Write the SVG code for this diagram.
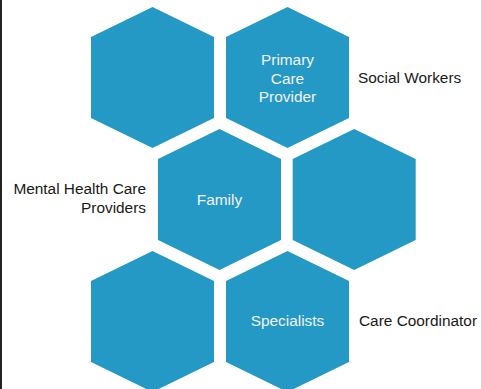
<svg xmlns="http://www.w3.org/2000/svg" width="481" height="389" viewBox="0 0 481 389">
<defs>
<style>
.hex{fill:#2599C6;}
.in{font-family:"Liberation Sans",Arial,sans-serif;font-size:15.4px;fill:#F2F2F2;text-anchor:middle;}
.out{font-family:"Liberation Sans",Arial,sans-serif;font-size:15.4px;fill:#1A1A1A;}
</style>
<polygon id="hexshape" points="0,-70.5 61.5,-40.5 61.5,40.5 0,70.5 -61.5,40.5 -61.5,-40.5"/>
</defs>
<rect x="0" y="0" width="481" height="389" fill="#FFFFFF"/>
<rect x="0" y="0" width="2" height="389" fill="#222222"/>
<g id="connectors"></g>
<g id="hex1"><use href="#hexshape" class="hex" transform="translate(152.5,77.5)"/></g>
<g id="hex-primary"><use href="#hexshape" class="hex" transform="translate(287.5,77.5)"/>
<text class="in" x="287.5" y="65">Primary</text>
<text class="in" x="287.5" y="83.5">Care</text>
<text class="in" x="287.5" y="102">Provider</text></g>
<g id="hex-family"><use href="#hexshape" class="hex" transform="translate(219.5,199.5)"/>
<text class="in" x="219.5" y="205">Family</text></g>
<g id="hex4"><use href="#hexshape" class="hex" transform="translate(354.2,199.5)"/></g>
<g id="hex5"><use href="#hexshape" class="hex" transform="translate(152.5,321.5)"/></g>
<g id="hex-specialists"><use href="#hexshape" class="hex" transform="translate(287.5,321.5)"/>
<text class="in" x="287.5" y="326">Specialists</text></g>
<g id="label-social"><text class="out" x="358" y="83">Social Workers</text></g>
<g id="label-mental"><text class="out" x="146" y="194" text-anchor="end">Mental Health Care</text>
<text class="out" x="146" y="213" text-anchor="end">Providers</text></g>
<g id="label-coordinator"><text class="out" x="359" y="326">Care Coordinator</text></g>
</svg>
